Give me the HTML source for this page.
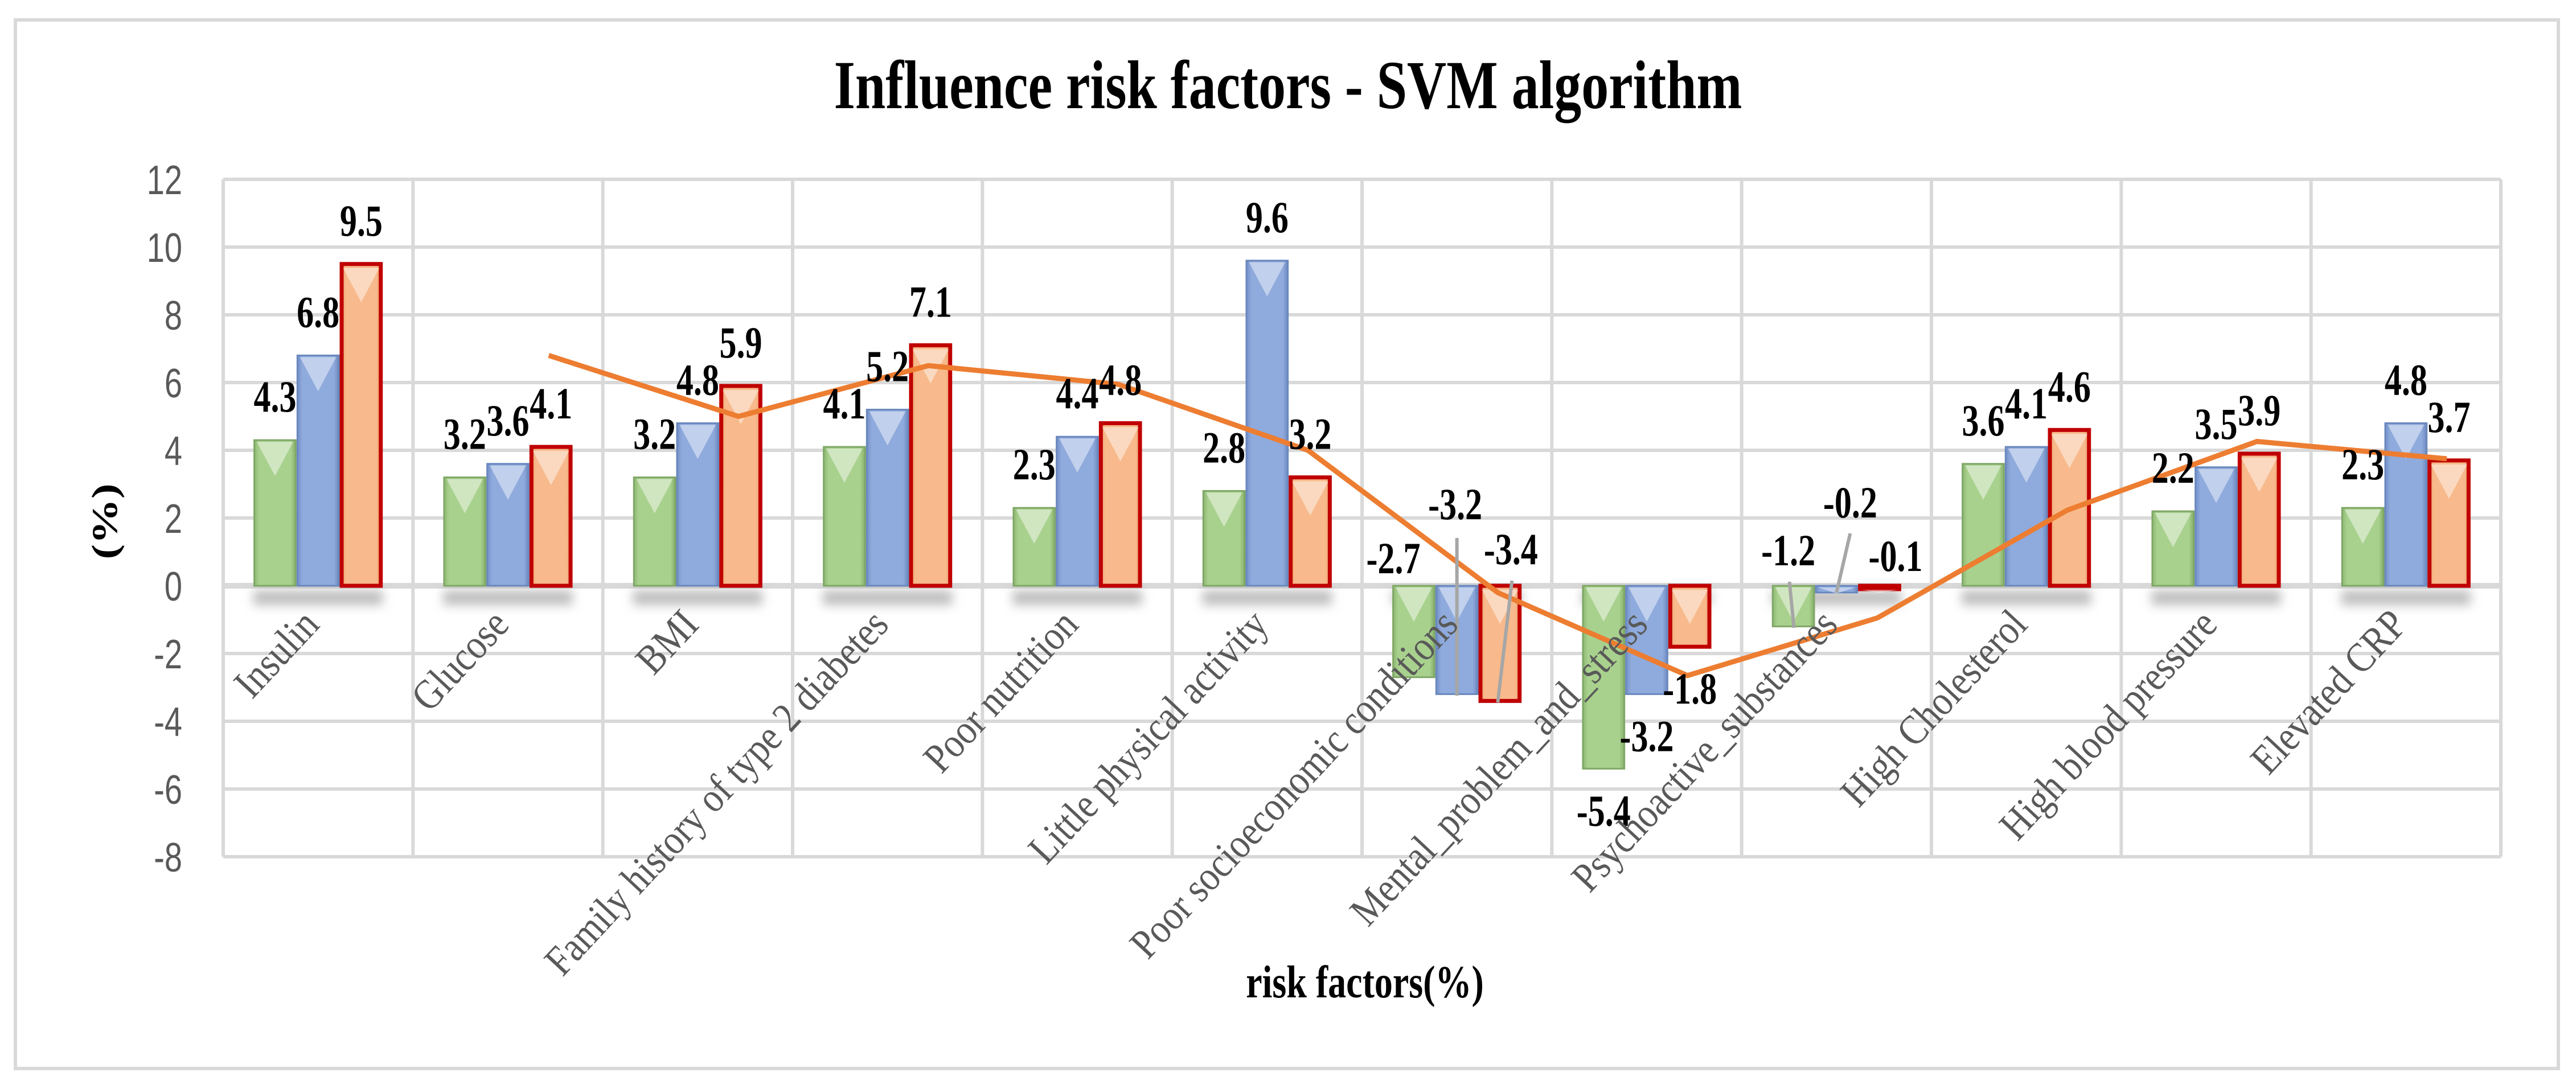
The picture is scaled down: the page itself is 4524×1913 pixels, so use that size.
<!DOCTYPE html>
<html><head><meta charset="utf-8"><style>
html,body{margin:0;padding:0;background:#fff;}
svg{display:block;}
</style></head><body>
<svg id="chart" xmlns="http://www.w3.org/2000/svg" width="4524" height="1913" viewBox="0 0 4524 1913">
<defs>
<linearGradient id="gG" x1="0" x2="1" y1="0" y2="0"><stop offset="0" stop-color="#8DB872"/><stop offset="0.12" stop-color="#A9D18E"/><stop offset="0.88" stop-color="#A9D18E"/><stop offset="1" stop-color="#86AF6A"/></linearGradient>
<linearGradient id="gB" x1="0" x2="1" y1="0" y2="0"><stop offset="0" stop-color="#7290C8"/><stop offset="0.12" stop-color="#8FAADC"/><stop offset="0.88" stop-color="#8FAADC"/><stop offset="1" stop-color="#6C8AC0"/></linearGradient>
<linearGradient id="gO" x1="0" x2="1" y1="0" y2="0"><stop offset="0" stop-color="#F0A470"/><stop offset="0.12" stop-color="#F8BA8C"/><stop offset="0.88" stop-color="#F8BA8C"/><stop offset="1" stop-color="#EBA06E"/></linearGradient>
<filter id="blur" x="-20%" y="-100%" width="140%" height="300%"><feGaussianBlur stdDeviation="9"/></filter>
</defs>
<rect x="27" y="35" width="4466" height="1842" fill="#fff" stroke="#D9D9D9" stroke-width="6"/>
<text transform="translate(2262,190) scale(1.02,1.28)" text-anchor="middle" font-family="Liberation Serif, serif" font-weight="bold" font-size="94">Influence risk factors - SVM algorithm</text>
<g id="grid"></g>
<g id="shadows"></g>
<g id="bars"></g>
<g id="line"></g>
<g id="leaders"></g>
<g id="labels"></g>
<g id="xlabels"></g>
<text transform="translate(205,916) rotate(-90) scale(1.25,1)" text-anchor="middle" font-family="Liberation Serif, serif" font-weight="bold" font-size="64">(%)</text>
<text transform="translate(2397,1752) scale(1,1.25)" text-anchor="middle" font-family="Liberation Serif, serif" font-weight="bold" font-size="64">risk factors(%)</text>
</svg>
<script>
const categories = ["Insulin","Glucose","BMI","Family history of type 2 diabetes","Poor nutrition","Little physical activity","Poor socioeconomic conditions","Mental_problem_and_stress","Psychoactive_substances","High Cholesterol","High blood pressure","Elevated CRP"];
const seriesGreen = [4.3,3.2,3.2,4.1,2.3,2.8,-2.7,-5.4,-1.2,3.6,2.2,2.3];
const seriesBlue = [6.8,3.6,4.8,5.2,4.4,9.6,-3.2,-3.2,-0.2,4.1,3.5,4.8];
const seriesOrange = [9.5,4.1,5.9,7.1,4.8,3.2,-3.4,-1.8,-0.1,4.6,3.9,3.7];
const trendValues = [null,6.8,5.0,6.5,5.95,4.0,-0.2,-2.65,-0.95,2.23,4.26,3.75];
const yTicks = [12,10,8,6,4,2,0,-2,-4,-6,-8];

const NS="http://www.w3.org/2000/svg";
const plotL=392, plotR=4392, yMax=12, yMin=-8, y0px=315, y1px=1505;
const cw=(plotR-plotL)/categories.length;
function xC(i){return plotL+cw*(i+0.5);}
function yS(v){return y0px+(yMax-v)/(yMax-yMin)*(y1px-y0px);}
function mk(tag,attrs,parent){const e=document.createElementNS(NS,tag);for(const k in attrs)e.setAttribute(k,attrs[k]);parent.appendChild(e);return e;}

const grid=document.getElementById('grid');
yTicks.forEach(t=>{
  const l=mk('line',{x1:plotL,x2:plotR,y1:yS(t),y2:yS(t),stroke:'#D9D9D9','stroke-width':t===0?10:6},grid);
  
  
  const tx=mk('text',{transform:`translate(${plotL-72},${yS(t)+26}) scale(1,1.3)`,'text-anchor':'end','font-family':'Liberation Sans, sans-serif','font-size':56,fill:'#595959'},grid);
  tx.textContent=t;
  
  
});
for(let i=0;i<=categories.length;i++){
  const l=mk('line',{x1:plotL+cw*i,x2:plotL+cw*i,y1:yS(yMax),y2:yS(yMin),stroke:'#D9D9D9','stroke-width':6},grid);
  
  
}

const series=[{v:seriesGreen,f:'url(#gG)',s:'#7FA766',sw:3,n:'green'},{v:seriesBlue,f:'url(#gB)',s:'#6A88BE',sw:3,n:'blue'},{v:seriesOrange,f:'url(#gO)',s:'#C00000',sw:7,n:'orange'}];
const bw=75.7;
const barsG=document.getElementById('bars'), labG=document.getElementById('labels'), shG=document.getElementById('shadows'), ldG=document.getElementById('leaders');
const labelOverride={"0-6":[-36,1007],"1-6":[-3,912],"2-6":[19,991],"0-8":[-9,993],"1-8":[24,909],"2-8":[28,1003]};
const leaderLines={"1-6":[0,945,0,1222],"2-6":[21,1020,-4,1234],"0-8":[-7,1022,1,1103],"1-8":[24,937,0,1041]};

categories.forEach((c,i)=>{
  const gx=xC(i)-1.5*bw;
  const sh=mk('rect',{x:gx,y:yS(0)+8,width:bw*3,height:26,fill:'#888','fill-opacity':0.55,filter:'url(#blur)'},shG);
  
  
  series.forEach((s,k)=>{
    const v=s.v[i], x=gx+k*bw, yt=yS(Math.max(v,0)), yb=yS(Math.min(v,0)), h=Math.max(yb-yt,4);
    const r=mk('rect',{x:x+s.sw/2,y:yt,width:bw-s.sw,height:h,fill:s.f,stroke:s.s,'stroke-width':s.sw},barsG);
    
    
    const th=Math.min(h*0.9,60);
    const tri=mk('polygon',{points:`${x+6},${yt+s.sw} ${x+bw-6},${yt+s.sw} ${x+bw/2},${yt+s.sw+th}`,fill:'#fff','fill-opacity':0.45},barsG);
    
    
    let lx=x+bw/2, ly;
    const key=k+'-'+i;
    if(labelOverride[key]){lx+=labelOverride[key][0];ly=labelOverride[key][1];}
    else if(v>=0){ly=yt-50;} else {ly=yb+100;}
    const t=mk('text',{transform:`translate(${lx},${ly}) scale(1,1.3)`,'text-anchor':'middle','font-family':'Liberation Serif, serif','font-weight':'bold','font-size':60,fill:'#000'},labG);
    t.textContent=v.toFixed(1);
    
    
    if(leaderLines[key]){
      const L=leaderLines[key];
      const ll=mk('line',{x1:x+bw/2+L[0],y1:L[1],x2:x+bw/2+L[2],y2:L[3],stroke:'#A6A6A6','stroke-width':6},ldG);
      
      
    }
  });
  const xl=mk('text',{transform:`translate(${xC(i)+5},1100) rotate(-47) scale(1,1.15)`,'text-anchor':'end','font-family':'Liberation Serif, serif','font-size':64,fill:'#595959'},document.getElementById('xlabels'));
  xl.textContent=c;
  
  
});

const pts=[];
trendValues.forEach((v,i)=>{if(v!==null)pts.push((xC(i)+0.215*cw).toFixed(1)+','+yS(v).toFixed(1));});
const pl=mk('polyline',{points:pts.join(' '),fill:'none',stroke:'#ED7D31','stroke-width':9,'stroke-linejoin':'miter'},document.getElementById('line'));


</script>
</body></html>
